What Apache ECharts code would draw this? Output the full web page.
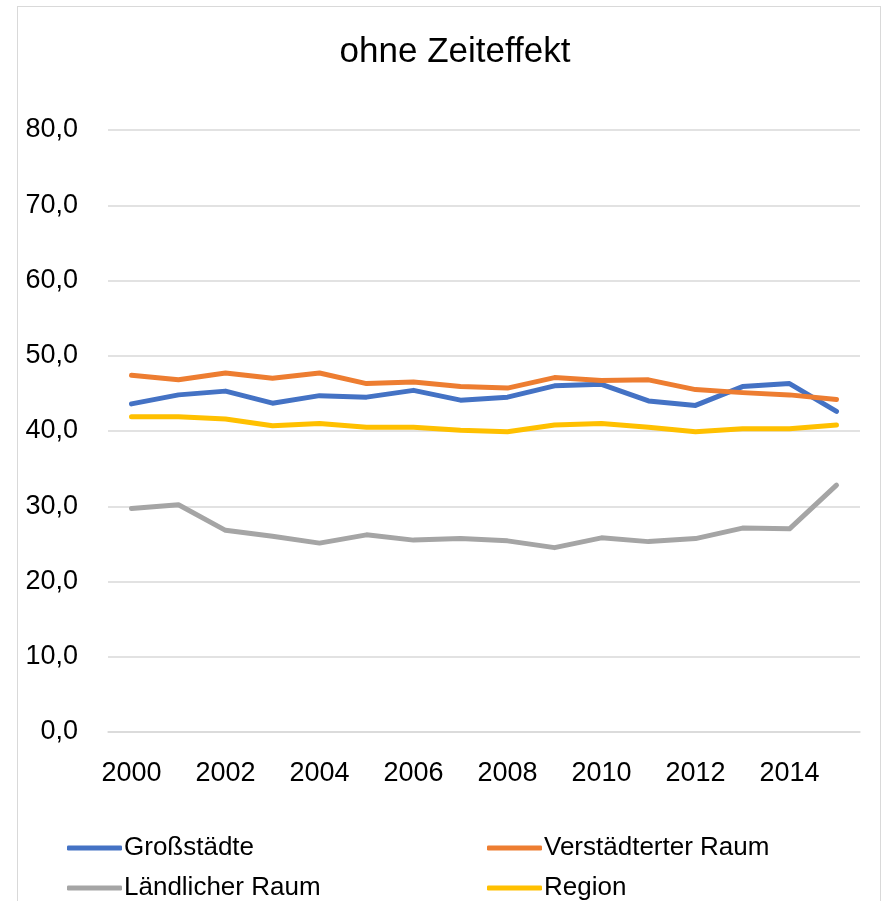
<!DOCTYPE html>
<html>
<head>
<meta charset="utf-8">
<script src="https://cdn.jsdelivr.net/npm/echarts@6/dist/echarts.min.js"></script>
<style>
  html, body { margin: 0; padding: 0; background: #fff; }
  #wrap { position: relative; width: 886px; height: 901px; overflow: hidden; }
  #frame { position: absolute; left: 17px; top: 6px; width: 864px; height: 920px; border: 1.5px solid #d9d9d9; box-sizing: border-box; }
  #chart { position: absolute; left: 0; top: 0; width: 886px; height: 901px; }
</style>
</head>
<body>
<div id="wrap">
  <div id="frame"></div>
  <div id="chart"></div>
</div>
<script>
/* Daten */
const years = ['2000','2001','2002','2003','2004','2005','2006','2007','2008','2009','2010','2011','2012','2013','2014','2015'];
const grossstaedte = [43.6, 44.8, 45.3, 43.7, 44.7, 44.5, 45.4, 44.1, 44.5, 46.0, 46.2, 44.0, 43.4, 45.9, 46.3, 42.6];
const verstaedtert = [47.4, 46.8, 47.7, 47.0, 47.7, 46.3, 46.5, 45.9, 45.7, 47.1, 46.7, 46.8, 45.5, 45.1, 44.8, 44.2];
const laendlich = [29.7, 30.2, 26.8, 26.0, 25.1, 26.2, 25.5, 25.7, 25.4, 24.5, 25.8, 25.3, 25.7, 27.1, 27.0, 32.8];
const region = [41.9, 41.9, 41.6, 40.7, 41.0, 40.5, 40.5, 40.1, 39.9, 40.8, 41.0, 40.5, 39.9, 40.3, 40.3, 40.8];

const font = 'Liberation Sans';

const chart = echarts.init(document.getElementById('chart'));

function line(name, data, color) {
  return {
    name: name,
    type: 'line',
    data: data,
    showSymbol: false,
    symbol: 'none',
    lineStyle: { width: 5, color: color, cap: 'round', join: 'round' },
    itemStyle: { color: color }
  };
}

/* eine Legende pro Eintrag, 2x2 angeordnet */
function legend(name, left, top) {
  return {
    data: [name],
    left: left,
    top: top,
    icon: 'roundRect',
    itemWidth: 55,
    itemHeight: 5,
    textStyle: { fontFamily: font, fontSize: 26, color: '#000', padding: [0, 0, 0, -3] }
  };
}

const option = {
  animation: false,
  title: {
    text: 'ohne Zeiteffekt',
    left: 450,
    textAlign: 'center',
    top: 30,
    textStyle: { fontFamily: font, fontSize: 35, fontWeight: 'normal', color: '#000' }
  },
  legend: [
    legend('Großstädte', 62, 830),
    legend('Verstädterter Raum', 482, 830),
    legend('Ländlicher Raum', 62, 870),
    legend('Region', 482, 870)
  ],
  grid: { left: 108, right: 26, top: 130, bottom: 169, containLabel: false },
  xAxis: {
    type: 'category',
    data: years,
    boundaryGap: true,
    axisLine: { lineStyle: { color: '#d9d9d9', width: 1.5 } },
    axisTick: { show: false },
    axisLabel: { interval: 1, margin: 28, fontFamily: font, fontSize: 27, color: '#000' }
  },
  yAxis: {
    type: 'value',
    min: 0,
    max: 80,
    interval: 10,
    axisLine: { show: false },
    axisTick: { show: false },
    splitLine: { lineStyle: { color: '#d9d9d9', width: 1.5 } },
    axisLabel: {
      margin: 30,
      fontFamily: font,
      fontSize: 27,
      color: '#000',
      formatter: v => v.toFixed(1).replace('.', ',')
    }
  },
  series: [
    line('Großstädte', grossstaedte, '#4472C4'),
    line('Verstädterter Raum', verstaedtert, '#ED7D31'),
    line('Ländlicher Raum', laendlich, '#A5A5A5'),
    line('Region', region, '#FFC000')
  ]
};

chart.setOption(option);
</script>
</body>
</html>
